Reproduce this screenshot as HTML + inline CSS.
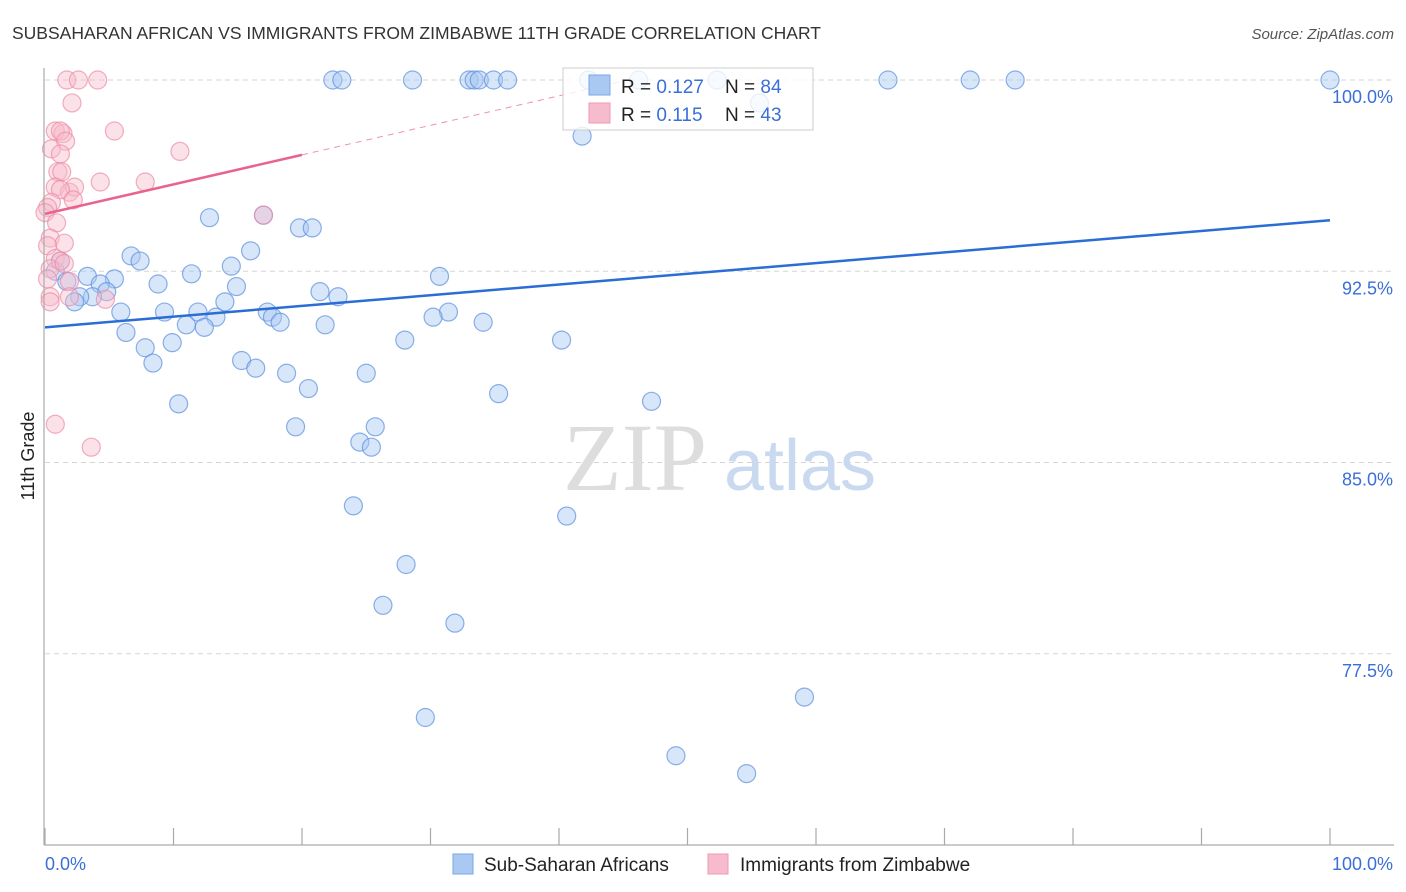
<!DOCTYPE html>
<html><head><meta charset="utf-8"><style>
body{margin:0;background:#fff;font-family:"Liberation Sans",sans-serif;}
svg{display:block}
</style></head><body>
<svg id="chart" width="1406" height="892" viewBox="0 0 1406 892" xmlns="http://www.w3.org/2000/svg">
<text x="12" y="39" font-size="17.5" fill="#333">SUBSAHARAN AFRICAN VS IMMIGRANTS FROM ZIMBABWE 11TH GRADE CORRELATION CHART</text>
<text x="1394" y="39" font-size="15" fill="#555" font-style="italic" text-anchor="end">Source: ZipAtlas.com</text>
<g id="grid"></g>
<g>
<text x="635" y="490" font-size="96" fill="#ddd" text-anchor="middle" font-family="Liberation Serif,serif">ZIP</text>
<text x="800" y="490" font-size="72" fill="#c9d9f0" text-anchor="middle">atlas</text>
</g>
<g id="pts"></g>
<g id="trends"></g>
<line x1="44" y1="68" x2="44" y2="845" stroke="#aaa" stroke-width="1.2"/>
<line x1="44" y1="845" x2="1394" y2="845" stroke="#aaa" stroke-width="1.2"/>
<text transform="translate(34,456) rotate(-90)" font-size="18" fill="#222" text-anchor="middle">11th Grade</text>
<text x="45" y="870" font-size="18" fill="#3a6fd8">0.0%</text>
<text x="1393" y="870" font-size="18" fill="#3a6fd8" text-anchor="end">100.0%</text>
<g>
<rect x="563" y="68" width="250" height="62" fill="#fff" fill-opacity="0.8" stroke="#ccc"/>
<rect x="589" y="75" width="21" height="20" fill="#a9c8f2" stroke="#7aa6e6"/>
<rect x="589" y="103" width="21" height="20" fill="#f6bccd" stroke="#ef9ab3"/>
<text x="621" y="93" font-size="19" fill="#222">R = <tspan fill="#3a6fd8">0.127</tspan></text>
<text x="725" y="93" font-size="19" fill="#222">N = <tspan fill="#3a6fd8">84</tspan></text>
<text x="621" y="121" font-size="19" fill="#222">R = <tspan fill="#3a6fd8"> 0.115</tspan></text>
<text x="725" y="121" font-size="19" fill="#222">N = <tspan fill="#3a6fd8">43</tspan></text>
</g>
<g>
<rect x="453" y="854" width="20" height="20" fill="#a9c8f2" stroke="#7aa6e6"/>
<text x="484" y="871" font-size="19" fill="#222">Sub-Saharan Africans</text>
<rect x="708" y="854" width="20" height="20" fill="#f6bccd" stroke="#ef9ab3"/>
<text x="740" y="871" font-size="19" fill="#222">Immigrants from Zimbabwe</text>
</g>
</svg>
<script>
const yTicks=[100,92.5,85,77.5];
const yTickLabels=["100.0%","92.5%","85.0%","77.5%"];
const xTicks=[0,10,20,30,40,50,60,70,80,90,100];
const blueX=[22.4,23.1,28.6,33.0,33.4,33.8,34.9,36.0,42.3,46.2,52.3,65.6,72.0,75.5,100,55.6,41.8,12.8,17.0,19.8,20.8,16.0,6.7,7.4,14.5,11.4,30.7,3.3,5.4,1.2,0.8,1.7,4.3,8.8,14.9,4.8,21.4,22.8,3.7,2.7,2.3,14.0,5.9,9.3,11.9,17.3,17.7,18.3,13.3,11.0,12.4,31.4,30.2,34.1,21.8,6.3,7.8,9.9,28.0,40.2,8.4,15.3,16.4,18.8,25.0,20.5,35.3,47.2,10.4,19.5,25.7,24.5,25.4,24.0,40.6,28.1,26.3,31.9,29.6,59.1,49.1,54.6];
const blueY=[100,100,100,100,100,100,100,100,100,100,100,100,100,100,100,99.1,97.8,94.6,94.7,94.2,94.2,93.3,93.1,92.9,92.7,92.4,92.3,92.3,92.2,92.9,92.5,92.1,92.0,92.0,91.9,91.7,91.7,91.5,91.5,91.5,91.3,91.3,90.9,90.9,90.9,90.9,90.7,90.5,90.7,90.4,90.3,90.9,90.7,90.5,90.4,90.1,89.5,89.7,89.8,89.8,88.9,89.0,88.7,88.5,88.5,87.9,87.7,87.4,87.3,86.4,86.4,85.8,85.6,83.3,82.9,81.0,79.4,78.7,75.0,75.8,73.5,72.8];
const pinkX=[1.7,2.6,4.1,2.1,0.8,1.4,1.2,5.4,1.6,0.5,10.5,1.2,1.0,1.3,4.3,7.8,0.8,1.9,2.3,1.2,2.2,0.5,0.2,0,17.0,0.9,0.4,1.5,0.2,0.8,1.2,0.4,1.5,0.2,1.9,4.7,0.4,0.4,1.9,0.8,3.6];
const pinkY=[100,100,100,99.1,98.0,97.9,98.0,98.0,97.6,97.3,97.2,97.1,96.4,96.4,96.0,96.0,95.8,95.6,95.8,95.7,95.3,95.2,95.0,94.8,94.7,94.4,93.8,93.6,93.5,93.0,92.9,92.6,92.8,92.2,92.1,91.4,91.5,91.3,91.5,86.5,85.6];
const blueTrend=[90.3,94.5];
const pinkTrend=[94.75,0.1157];
const X=v=>45+v*12.85, Y=v=>80+(100-v)*25.5;
const NS="http://www.w3.org/2000/svg";
const grid=document.getElementById('grid');
function mk(tag,attrs,parent){const e=document.createElementNS(NS,tag);for(const k in attrs)e.setAttribute(k,attrs[k]);parent.appendChild(e);return e;}
yTicks.forEach((t,i)=>{
 const l=mk('line',{x1:45,x2:1393,y1:Y(t),y2:Y(t),stroke:'#d5d5d5','stroke-dasharray':'5,4'},grid);
 
 
 const tx=mk('text',{x:1393,y:Y(t)+23,'font-size':18,fill:'#3a6fd8','text-anchor':'end'},grid);
 tx.textContent=yTickLabels[i];
 
 
});
xTicks.forEach(t=>{
 const l=mk('line',{x1:X(t),x2:X(t),y1:828,y2:845,stroke:'#aaa','stroke-width':1.2},grid);
 
 
});
const pts=document.getElementById('pts');
blueX.forEach((x,i)=>{
 const c=mk('circle',{cx:X(x),cy:Y(blueY[i]),r:9,fill:'#a9c8f2','fill-opacity':0.45,stroke:'#5b8fde','stroke-opacity':0.7,'stroke-width':1.2},pts);
 
 
});
pinkX.forEach((x,i)=>{
 const c=mk('circle',{cx:X(x),cy:Y(pinkY[i]),r:9,fill:'#f6bccd','fill-opacity':0.45,stroke:'#ec8aa7','stroke-opacity':0.7,'stroke-width':1.2},pts);
 
 
});
const tr=document.getElementById('trends');
const bl=mk('line',{x1:X(0),y1:Y(blueTrend[0]),x2:X(100),y2:Y(blueTrend[1]),stroke:'#2a6dd4','stroke-width':2.5},tr);


const pEnd=(100-pinkTrend[0])/pinkTrend[1];
const ps=mk('line',{x1:X(0),y1:Y(pinkTrend[0]),x2:X(20),y2:Y(pinkTrend[0]+20*pinkTrend[1]),stroke:'#e8648f','stroke-width':2.5},tr);


const pd=mk('line',{x1:X(20),y1:Y(pinkTrend[0]+20*pinkTrend[1]),x2:X(pEnd),y2:Y(100),stroke:'#e8648f','stroke-width':1,'stroke-dasharray':'6,5','stroke-opacity':0.7},tr);


</script>
</body></html>
